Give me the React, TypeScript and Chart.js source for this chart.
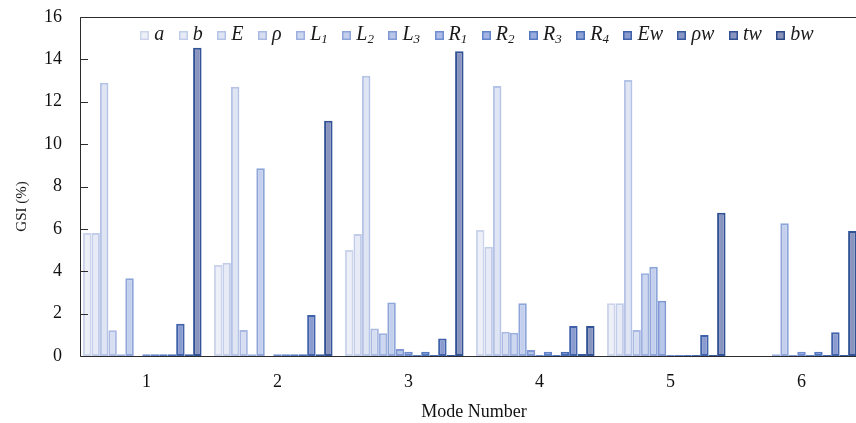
import React, { useEffect, useRef } from "react";
import { Chart, registerables } from "chart.js";

Chart.register(...registerables);

// ---------- data ----------
const categories = ["1", "2", "3", "4", "5", "6"];
const seriesLabels = ["a", "b", "E", "ρ", "L₁", "L₂", "L₃", "R₁", "R₂", "R₃", "R₄", "Ew", "ρw", "tw", "bw"];

const aVals = [5.8, 4.29, 5.0, 5.95, 2.49, 0];
const bVals = [5.8, 4.4, 5.76, 5.16, 2.49, 0];
const EVals = [12.9, 12.71, 13.23, 12.74, 13.03, 0];
const rhoVals = [1.22, 1.23, 1.3, 1.15, 1.23, 0];
const L1Vals = [0.08, 0.08, 1.07, 1.1, 3.9, 0.08];
const L2Vals = [3.67, 8.86, 2.52, 2.49, 4.21, 6.27];
const L3Vals = [0, 0, 0.33, 0.28, 2.61, 0.05];
const R1Vals = [0.08, 0.08, 0.2, 0.05, 0.05, 0.2];
const R2Vals = [0.08, 0.08, 0.05, 0.2, 0.05, 0.05];
const R3Vals = [0.08, 0.08, 0.2, 0.05, 0.05, 0.2];
const R4Vals = [0.08, 0.08, 0.05, 0.2, 0.05, 0.05];
const EwVals = [1.52, 1.93, 0.83, 1.42, 0.99, 1.12];
const rhowVals = [0.08, 0.08, 0.05, 0.1, 0.05, 0.05];
const twVals = [14.55, 11.1, 14.38, 1.42, 6.76, 5.9];
const bwVals = [0, 0, 0, 0, 0, 0];

const seriesValues = [
  aVals, bVals, EVals, rhoVals, L1Vals, L2Vals, L3Vals,
  R1Vals, R2Vals, R3Vals, R4Vals, EwVals, rhowVals, twVals, bwVals,
];

const yTickValues = [0, 2, 4, 6, 8, 10, 12, 14, 16];

// ---------- styles ----------
const fillColors = [
  "#eef0f8", "#e7ebf6", "#e0e5f4", "#d7def2", "#cdd7f0", "#c3cfed", "#b8c6ea",
  "#adbde6", "#a2b4e2", "#98abdd", "#8fa2d6", "#8a9bcf", "#8896c6", "#8a95bf", "#8891b8",
];
const borderColors = [
  "#cdd5ed", "#c2cdea", "#b5c3e6", "#a9b9e2", "#9cb0df", "#8ea5da", "#8099d5",
  "#6f8dd0", "#6083ca", "#5479c1", "#486db6", "#3f62aa", "#375a9f", "#315295", "#2b4887",
];

const SERIF = "'Liberation Serif', 'Times New Roman', serif";
const SUBS: Record<string, string> = {
  "₀": "0", "₁": "1", "₂": "2", "₃": "3", "₄": "4", "₅": "5", "₆": "6", "₇": "7", "₈": "8", "₉": "9",
};

const framePlugin = {
  id: "frame",
  afterDatasetsDraw(chart: any) {
    const { ctx, chartArea } = chart;
    const { left, top, right, bottom } = chartArea;
    ctx.save();
    ctx.strokeStyle = "#2b2b2b";
    ctx.lineWidth = 1;
    ctx.beginPath();
    ctx.moveTo(Math.round(left) - 0.5, Math.round(top) + 0.5);
    ctx.lineTo(Math.round(right) + 0.5, Math.round(top) + 0.5);
    ctx.lineTo(Math.round(right) + 0.5, Math.round(bottom) + 0.5);
    ctx.lineTo(Math.round(left) - 0.5, Math.round(bottom) + 0.5);
    ctx.closePath();
    ctx.stroke();
    // inward tick marks on the y axis
    const yScale = chart.scales.y;
    ctx.beginPath();
    yScale.ticks.forEach((t: any) => {
      const py = Math.round(yScale.getPixelForValue(t.value)) + 0.5;
      ctx.moveTo(Math.round(left) - 0.5, py);
      ctx.lineTo(Math.round(left) + 7, py);
    });
    ctx.stroke();
    // y title
    ctx.fillStyle = "#1a1a1a";
    ctx.font = `15px ${SERIF}`;
    ctx.textAlign = "center";
    ctx.textBaseline = "middle";
    ctx.translate(22, (top + bottom) / 2 + 20);
    ctx.rotate(-Math.PI / 2);
    ctx.fillText("GSI (%)", 0, 0);
    ctx.restore();
  },
};

const legendPlugin = {
  id: "innerLegend",
  afterDatasetsDraw(chart: any) {
    const { ctx, chartArea } = chart;
    const baseFont = `italic 20px ${SERIF}`;
    const subFont = `italic 13px ${SERIF}`;
    const box = 9;
    const gapBox = 5;
    const gapItem = 14.5;
    const measure = (label: string) => {
      let w = 0;
      for (const ch of Array.from(label)) {
        ctx.font = SUBS[ch] ? subFont : baseFont;
        w += ctx.measureText(SUBS[ch] || ch).width;
      }
      return w;
    };
    ctx.save();
    const ds = chart.data.datasets;
    const widths = ds.map((d: any) => measure(d.label));
    const total = widths.reduce((s: number, w: number) => s + box + gapBox + w, 0) + gapItem * (ds.length - 1);
    let x = (chartArea.left + chartArea.right) / 2 + 3 - total / 2;
    const y = chartArea.top + 18;
    ds.forEach((d: any, i: number) => {
      ctx.fillStyle = d.backgroundColor;
      ctx.fillRect(Math.round(x), Math.round(y - box / 2), box, box);
      ctx.strokeStyle = d.borderColor;
      ctx.lineWidth = 1.5;
      ctx.strokeRect(Math.round(x) + 0.75, Math.round(y - box / 2) + 0.75, box - 1.5, box - 1.5);
      let tx = x + box + gapBox;
      ctx.fillStyle = "#1a1a1a";
      ctx.textAlign = "left";
      ctx.textBaseline = "middle";
      for (const ch of Array.from(d.label as string)) {
        if (SUBS[ch]) {
          ctx.font = subFont;
          ctx.fillText(SUBS[ch], tx, y + 5);
          tx += ctx.measureText(SUBS[ch]).width;
        } else {
          ctx.font = baseFont;
          ctx.fillText(ch, tx, y);
          tx += ctx.measureText(ch).width;
        }
      }
      x += box + gapBox + widths[i] + gapItem;
    });
    ctx.restore();
  },
};

export default function App() {
  const canvasRef = useRef<HTMLCanvasElement | null>(null);

  useEffect(() => {
    if (!canvasRef.current) return;
    const datasets = seriesLabels.map((label, i) => ({
      label,
      data: seriesValues[i],
      backgroundColor: fillColors[i],
      borderColor: borderColors[i],
      borderWidth: 2,
      borderSkipped: false as const,
      categoryPercentage: 0.97,
      barPercentage: 1.0,
    }));
    const chart = new Chart(canvasRef.current, {
      type: "bar",
      data: { labels: categories, datasets },
      options: {
        responsive: false,
        animation: false,
        devicePixelRatio: 1,
        layout: { padding: { left: 0, right: 13, top: 17, bottom: 0 } },
        plugins: {
          legend: { display: false },
          tooltip: { enabled: false },
        },
        scales: {
          x: {
            grid: { display: false, drawTicks: false },
            border: { display: false },
            ticks: {
              color: "#111",
              font: { family: SERIF, size: 18 },
              padding: 15,
            },
            title: {
              display: true,
              text: "Mode Number",
              color: "#111",
              font: { family: SERIF, size: 18 },
              padding: { top: 0, bottom: 0 },
            },
            afterFit: (scale: any) => {
              scale.height = 67;
              scale.paddingLeft = 0;
              scale.paddingRight = 0;
            },
          },
          y: {
            min: 0,
            max: 16,
            afterBuildTicks: (scale: any) => {
              scale.ticks = yTickValues.map((v) => ({ value: v }));
            },
            grid: { display: false, drawTicks: false },
            border: { display: false },
            ticks: {
              color: "#111",
              font: { family: SERIF, size: 18 },
              padding: 19,
            },
            afterFit: (scale: any) => {
              scale.width = 81;
              scale.paddingTop = 0;
              scale.paddingBottom = 0;
            },
          },
        },
      },
      plugins: [framePlugin, legendPlugin],
    });
    return () => chart.destroy();
  }, []);

  return (
    <div
      style={{
        position: "absolute",
        left: 0,
        top: 0,
        width: 856,
        height: 423,
        overflow: "hidden",
        background: "#fff",
      }}
    >
      <canvas ref={canvasRef} width={880} height={423} style={{ display: "block" }} />
    </div>
  );
}
